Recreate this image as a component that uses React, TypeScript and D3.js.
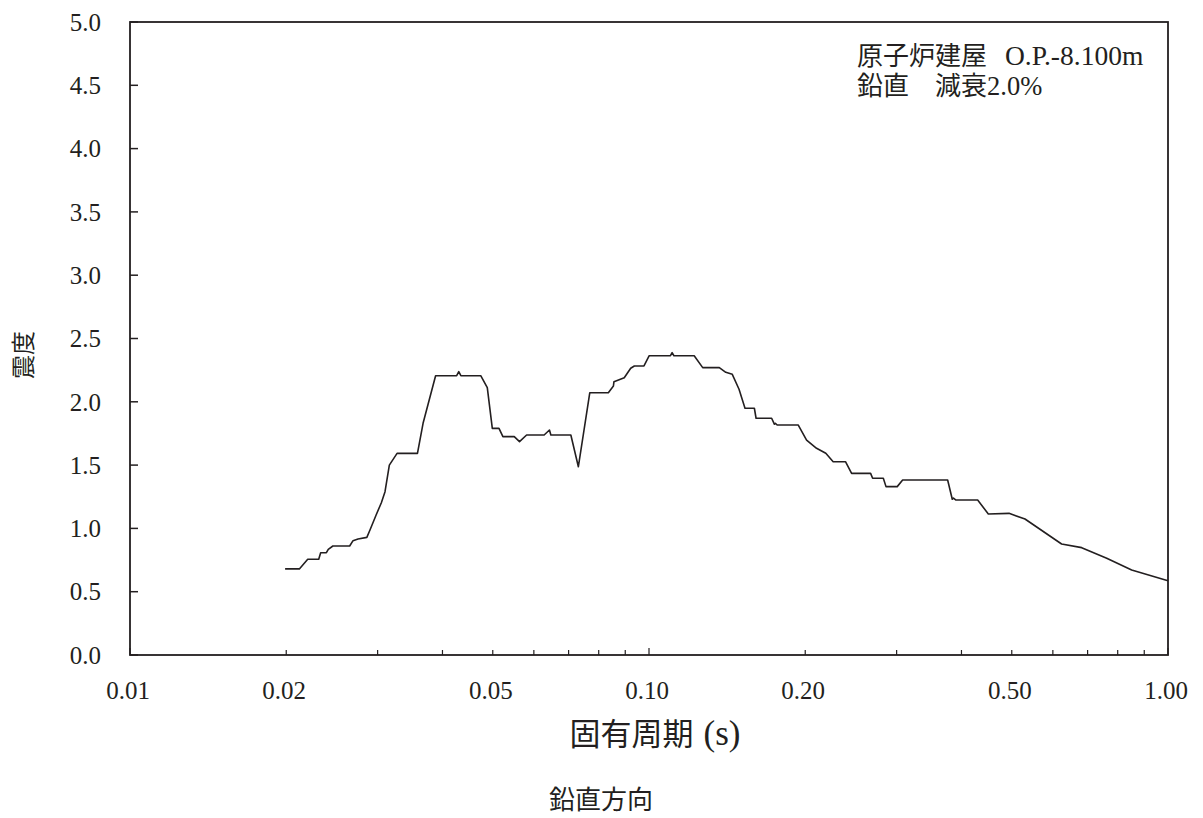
import React from "react";
import * as d3 from "d3";

const periods = [
  0.0199, 0.0212, 0.0220, 0.0231, 0.0233, 0.0239, 0.0241, 0.0246, 0.0265, 0.0269,
  0.0275, 0.0286, 0.0290, 0.0298, 0.0305, 0.0310, 0.0316, 0.0327, 0.0358, 0.0367,
  0.0388, 0.0426, 0.0430, 0.0434, 0.0474, 0.0488, 0.0499, 0.0514, 0.0523, 0.0550,
  0.0563, 0.0581, 0.0628, 0.0643, 0.0647, 0.0707, 0.0731, 0.0769, 0.0835, 0.0854,
  0.0856, 0.0896, 0.0922, 0.0937, 0.0978, 0.1001, 0.1100, 0.1108, 0.1117, 0.1222,
  0.1269, 0.1366, 0.1406, 0.1447, 0.1491, 0.1531, 0.1596, 0.1608, 0.1723, 0.1744,
  0.1752, 0.1766, 0.1938, 0.2012, 0.2103, 0.2191, 0.2264, 0.2391, 0.2457, 0.2673,
  0.2697, 0.2828, 0.2862, 0.3008, 0.3081, 0.3762, 0.3840, 0.3860, 0.3904, 0.4298,
  0.4506, 0.4940, 0.5302, 0.6237, 0.6819, 0.7619, 0.8511, 1.0000,
];
const values = [
  0.68, 0.68, 0.756, 0.756, 0.808, 0.808, 0.835, 0.861, 0.861, 0.903,
  0.916, 0.929, 0.987, 1.106, 1.203, 1.29, 1.5, 1.593, 1.593, 1.83,
  2.206, 2.206, 2.238, 2.206, 2.206, 2.112, 1.79, 1.79, 1.725, 1.725,
  1.685, 1.738, 1.738, 1.777, 1.738, 1.738, 1.487, 2.072, 2.072, 2.125,
  2.159, 2.19, 2.265, 2.283, 2.283, 2.364, 2.364, 2.388, 2.364, 2.364,
  2.27, 2.27, 2.233, 2.217, 2.099, 1.949, 1.949, 1.87, 1.87, 1.823,
  1.83, 1.817, 1.817, 1.698, 1.633, 1.593, 1.527, 1.527, 1.435, 1.435,
  1.396, 1.396, 1.33, 1.33, 1.382, 1.382, 1.23, 1.24, 1.224, 1.224,
  1.114, 1.119, 1.074, 0.877, 0.848, 0.764, 0.671, 0.587,
];

const xTickLabels = [0.01, 0.02, 0.05, 0.1, 0.2, 0.5, 1.0];
const yTicks = [0, 0.5, 1, 1.5, 2, 2.5, 3, 3.5, 4, 4.5, 5];
const annotationBuilding = "原子炉建屋";
const annotationLevel = "O.P.-8.100m";
const annotationDir = "鉛直　減衰";
const annotationDamping = "2.0%";
const xTitle = "固有周期";
const xUnit = "(s)";
const yTitle = "震度";
const caption = "鉛直方向";

const W = 1203;
const H = 818;
const left = 130;
const right = 1168;
const top = 22;
const bottom = 655;
const ink = "#231f20";
const font = "'Liberation Serif', 'Times New Roman', Tinos, 'DejaVu Serif', 'Noto Sans CJK JP', serif";

export default function App() {
  const x = d3.scaleLog().domain([0.01, 1]).range([left, right]);
  const y = d3.scaleLinear().domain([0, 5]).range([bottom, top]);
  const minorTicks: number[] = [];
  [0.01, 0.1].forEach((d) => {
    for (let k = 2; k <= 9; k++) minorTicks.push(d * k);
  });
  const line = d3
    .line<number>()
    .x((_, i) => x(periods[i]))
    .y((d) => y(d));
  const path = line(values) || "";

  return (
    <svg
      width={W}
      height={H}
      style={{ position: "absolute", left: 0, top: 0, background: "#fff", fontFamily: font }}
    >
      <rect x={0} y={0} width={W} height={H} fill="#fff" />
      {yTicks.map((t) => (
        <g key={"y" + t}>
          <line x1={left} x2={left + 8} y1={y(t)} y2={y(t)} stroke={ink} strokeWidth={1.5} />
          <text x={101} y={y(t)} dy="0.35em" textAnchor="end" fontSize={25} fill={ink}>
            {t.toFixed(1)}
          </text>
        </g>
      ))}
      {minorTicks.map((t) => (
        <line key={"m" + t} x1={x(t)} x2={x(t)} y1={bottom} y2={bottom - 5} stroke={ink} strokeWidth={1.2} />
      ))}
      {[0.01, 0.1, 1].map((t) => (
        <line key={"M" + t} x1={x(t)} x2={x(t)} y1={bottom} y2={bottom - 7} stroke={ink} strokeWidth={1.2} />
      ))}
      {xTickLabels.map((t) => (
        <text key={"xl" + t} x={x(t) - 2} y={690} dy="0.35em" textAnchor="middle" fontSize={25} fill={ink}>
          {t.toFixed(2)}
        </text>
      ))}
      <rect x={left} y={top} width={right - left} height={bottom - top} fill="none" stroke={ink} strokeWidth={1.8} />
      <path d={path} fill="none" stroke={ink} strokeWidth={1.6} strokeLinejoin="round" />
      <text x={857} y={65} fontSize={26} fill={ink}>
        {annotationBuilding}
        <tspan x={1005} fontSize={27.5}>{annotationLevel}</tspan>
      </text>
      <text x={857} y={95} fontSize={26} fill={ink}>
        {annotationDir}
        <tspan fontSize={26.5}>{annotationDamping}</tspan>
      </text>
      <text x={655} y={734} dy="0.35em" textAnchor="middle" fontSize={31} fill={ink}>
        {xTitle}
        <tspan dx={10} fontSize={35}>{xUnit}</tspan>
      </text>
      <text x={601} y={800} dy="0.35em" textAnchor="middle" fontSize={26} fill={ink}>
        {caption}
      </text>
      <text
        transform={`translate(24,355) rotate(-90)`}
        textAnchor="middle"
        dy="0.35em"
        fontSize={24}
        fill={ink}
      >
        {yTitle}
      </text>
    </svg>
  );
}
